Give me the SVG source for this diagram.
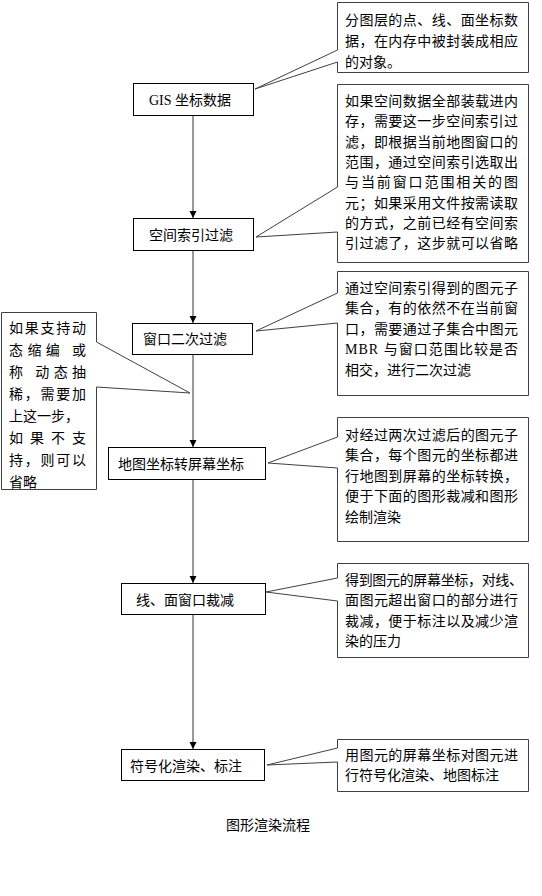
<svg xmlns="http://www.w3.org/2000/svg" width="542" height="896" viewBox="0 0 542 896">
<style>
text{font-family:"Liberation Serif","Noto Sans CJK SC",serif;font-size:14px;fill:#000}
.box{fill:#fff;stroke:#000;stroke-width:1}
.call{fill:#fff;stroke:#404040;stroke-width:1;stroke-linejoin:miter}
.conn{stroke:#333;stroke-width:1;fill:none;marker-end:url(#arr)}
</style>
<defs>
<marker id="arr" markerWidth="7" markerHeight="8" refX="7" refY="3.5" orient="auto" markerUnits="userSpaceOnUse">
<path d="M0,0 L7,3.5 L0,7 Z" fill="#000"/>
</marker>
</defs>
<rect width="542" height="896" fill="#fff"/>
<g id="connectors">
<line class="conn" x1="193" y1="115" x2="193" y2="218"/>
<line class="conn" x1="193" y1="250" x2="193" y2="323"/>
<line class="conn" x1="193" y1="354" x2="193" y2="447"/>
<line class="conn" x1="193" y1="480" x2="193" y2="583"/>
<line class="conn" x1="193" y1="614" x2="193" y2="749"/>
</g>
<g id="n1">
<rect class="box" x="133.5" y="83.5" width="120" height="32"/>
<text x="149" y="104.5">GIS 坐标数据</text>
</g>
<g id="n2">
<rect class="box" x="133.5" y="218.5" width="120" height="32"/>
<text x="149" y="239.5">空间索引过滤</text>
</g>
<g id="n3">
<rect class="box" x="132.5" y="323.5" width="120" height="31"/>
<text x="143" y="344">窗口二次过滤</text>
</g>
<g id="n4">
<rect class="box" x="108.5" y="447.5" width="157" height="32"/>
<text x="118" y="468.5">地图坐标转屏幕坐标</text>
</g>
<g id="n5">
<rect class="box" x="121.5" y="583.5" width="144" height="31"/>
<text x="136" y="604.5">线、面窗口裁减</text>
</g>
<g id="n6">
<rect class="box" x="121.5" y="749.5" width="143" height="31"/>
<text x="130" y="770.5">符号化渲染、标注</text>
</g>
<g id="c1">
<path class="call" d="M337.5,2.5 H528.5 V72.5 H337.5 V62 L255,89 L337.5,50 Z"/>
<text x="345" y="24.5" textLength="173" lengthAdjust="spacing">分图层的点、线、面坐标数</text>
<text x="345" y="45.5" textLength="173" lengthAdjust="spacing">据，在内存中被封装成相应</text>
<text x="345" y="66.5">的对象。</text>
</g>
<g id="c2">
<path class="call" d="M337.5,84.5 H528.5 V262.5 H337.5 V232 L256,237 L337.5,187 Z"/>
<text x="345" y="106" textLength="173" lengthAdjust="spacing">如果空间数据全部装载进内</text>
<text x="345" y="126.3" textLength="173" lengthAdjust="spacing">存，需要这一步空间索引过</text>
<text x="345" y="146.6" textLength="173" lengthAdjust="spacing">滤，即根据当前地图窗口的</text>
<text x="345" y="166.9" textLength="173" lengthAdjust="spacing">范围，通过空间索引选取出</text>
<text x="345" y="187.2" textLength="173" lengthAdjust="spacing">与当前窗口范围相关的图</text>
<text x="345" y="207.5" textLength="173" lengthAdjust="spacing">元；如果采用文件按需读取</text>
<text x="345" y="227.8" textLength="173" lengthAdjust="spacing">的方式，之前已经有空间索</text>
<text x="345" y="248.1" textLength="173" lengthAdjust="spacing">引过滤了，这步就可以省略</text>
</g>
<g id="c3">
<path class="call" d="M337.5,271.5 H528.5 V395.5 H337.5 V323 L256,331 L337.5,293 Z"/>
<text x="345" y="292.5" textLength="173" lengthAdjust="spacing">通过空间索引得到的图元子</text>
<text x="345" y="313" textLength="173" lengthAdjust="spacing">集合，有的依然不在当前窗</text>
<text x="345" y="333.5" textLength="173" lengthAdjust="spacing">口，需要通过子集合中图元</text>
<text x="345" y="354" textLength="173" lengthAdjust="spacing">MBR 与窗口范围比较是否</text>
<text x="345" y="374.5">相交，进行二次过滤</text>
</g>
<g id="c0">
<path class="call" d="M1.5,312.5 H96.5 V342 L190,393 L96.5,387 V489.5 H1.5 Z"/>
<text x="9" y="333" textLength="77" lengthAdjust="spacing">如果支持动</text>
<text x="9" y="355" textLength="77" lengthAdjust="spacing">态缩编 或</text>
<text x="9" y="377" textLength="77" lengthAdjust="spacing">称 动态抽</text>
<text x="9" y="399" textLength="77" lengthAdjust="spacing">稀，需要加</text>
<text x="9" y="421">上这一步，</text>
<text x="9" y="443" textLength="77" lengthAdjust="spacing">如果不支</text>
<text x="9" y="465" textLength="77" lengthAdjust="spacing">持，则可以</text>
<text x="9" y="487">省略</text>
</g>
<g id="c4">
<path class="call" d="M337.5,417.5 H528.5 V541.5 H337.5 V468 L268,463 L337.5,437 Z"/>
<text x="345" y="439.5" textLength="173" lengthAdjust="spacing">对经过两次过滤后的图元子</text>
<text x="345" y="460" textLength="173" lengthAdjust="spacing">集合，每个图元的坐标都进</text>
<text x="345" y="480.5" textLength="173" lengthAdjust="spacing">行地图到屏幕的坐标转换，</text>
<text x="345" y="501" textLength="173" lengthAdjust="spacing">便于下面的图形裁减和图形</text>
<text x="345" y="521.5">绘制渲染</text>
</g>
<g id="c5">
<path class="call" d="M337.5,563.5 H528.5 V657.5 H337.5 V601 L266,592 L337.5,578 Z"/>
<text x="345" y="584.5" textLength="178" lengthAdjust="spacing">得到图元的屏幕坐标，对线、</text>
<text x="345" y="605" textLength="173" lengthAdjust="spacing">面图元超出窗口的部分进行</text>
<text x="345" y="625.5" textLength="173" lengthAdjust="spacing">裁减，便于标注以及减少渲</text>
<text x="345" y="646">染的压力</text>
</g>
<g id="c6">
<path class="call" d="M337.5,739.5 H528.5 V791.5 H337.5 V762 L267,765 L337.5,748 Z"/>
<text x="345" y="759.5" textLength="173" lengthAdjust="spacing">用图元的屏幕坐标对图元进</text>
<text x="345" y="780">行符号化渲染、地图标注</text>
</g>
<g id="title">
<text x="226" y="830">图形渲染流程</text>
</g>
</svg>
